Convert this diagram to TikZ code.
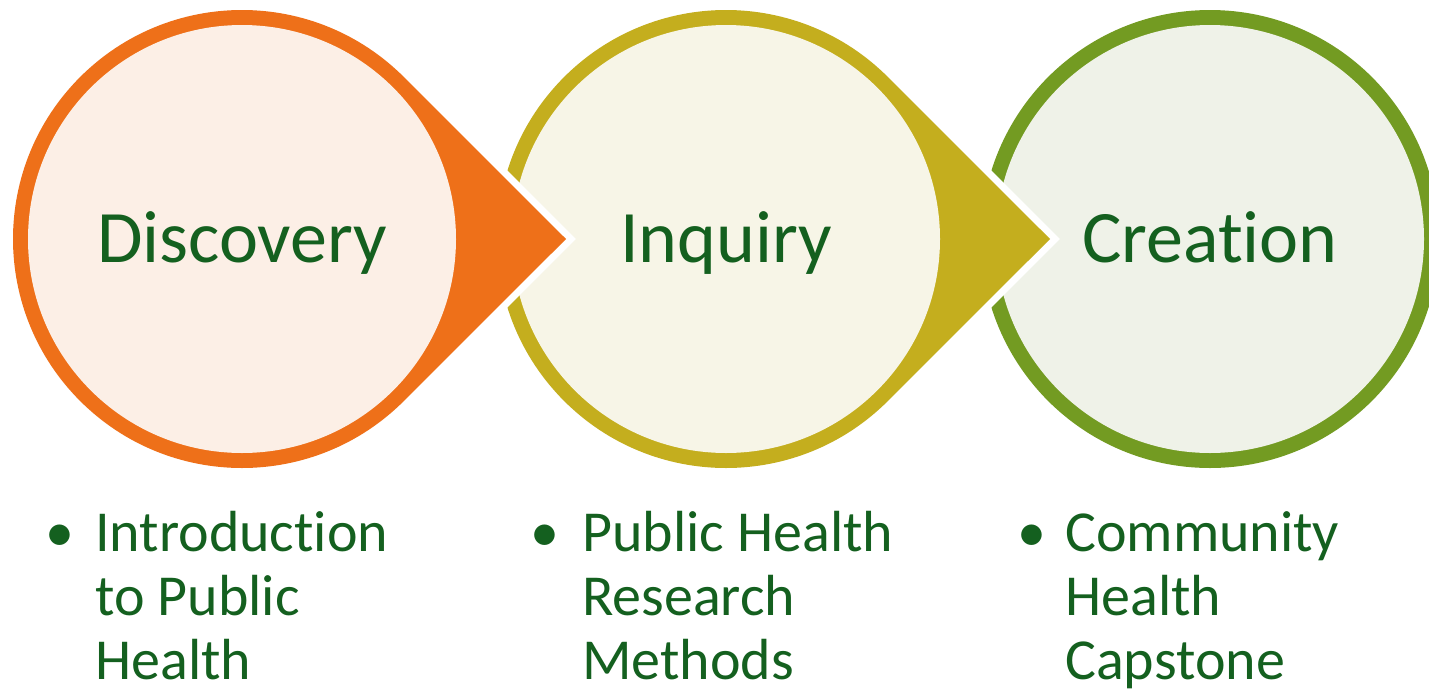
\documentclass[tikz,border=0pt]{standalone}
\usepackage{fontspec}
\setmainfont{Carlito}[Ligatures=CommonOff]
\usepackage{tikz}
\usetikzlibrary{calc}
\definecolor{dsorange}{HTML}{EE7019}
\definecolor{dslight}{HTML}{FCEFE6}
\definecolor{inqyellow}{HTML}{C4AE1E}
\definecolor{inqlight}{HTML}{F7F5E7}
\definecolor{crgreen}{HTML}{739B22}
\definecolor{crlight}{HTML}{EFF2E8}
\definecolor{txtgreen}{HTML}{14601F}

\begin{document}
\begin{tikzpicture}[x=1pt,y=1pt,
  stage/.style={circle,inner sep=0pt,minimum size=428pt,text=txtgreen,
    font=\fontsize{74}{80}\selectfont,text height=47pt,text depth=0pt},
  item/.style={anchor=base west,inner sep=0pt,align=left,text=txtgreen,
    font=\fontsize{58}{64}\selectfont},
  dot/.style={anchor=base,inner sep=0pt,text=txtgreen,
    font=\fontsize{58}{64}\selectfont}]
\useasboundingbox (0,0) rectangle (1429,-691);
\fill[crgreen] (1210,-239) circle[radius=229];
\node[stage,fill=crlight] (creation) at (1210,-239) {Creation};
\foreach \cx/\ring/\inner/\nm/\txt in {726/inqyellow/inqlight/inquiry/Inquiry,
    242/dsorange/dslight/discovery/Discovery}{
  \fill[\ring,preaction={draw=white,line width=14pt}] (\cx+324,-239)
    -- ($(\cx,-239)+(45:229)$) arc[start angle=45,end angle=315,radius=229] -- cycle;
  \node[stage,fill=\inner] (\nm) at (\cx,-239) {\txt};
}
\node[dot] (dot1) at (60,-551) {•};
\node[item] (intro) at (95,-679) {Introduction\\to Public\\Health};
\node[dot] (dot2) at (545,-551) {•};
\node[item] (research) at (582,-679) {Public Health\\Research\\Methods};
\node[dot] (dot3) at (1032,-551) {•};
\node[item] (capstone) at (1065,-679) {Community\\Health\\Capstone};
\end{tikzpicture}
\end{document}
